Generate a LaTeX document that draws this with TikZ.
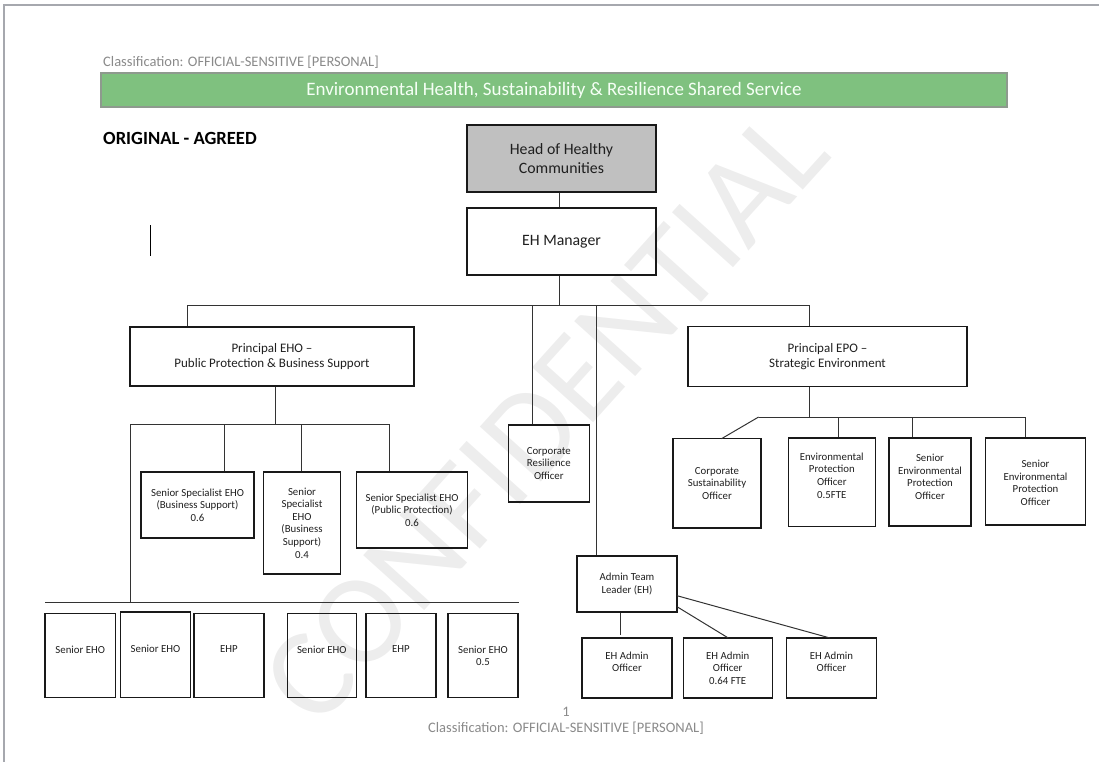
\documentclass[tikz,border=0pt]{standalone}
\usepackage{fontspec}
\setmainfont{Carlito}
\usetikzlibrary{calc}
\definecolor{bannergreen}{HTML}{7FC17F}
\definecolor{bannerborder}{HTML}{8E9A8E}
\definecolor{pageline}{HTML}{A6A8AE}
\definecolor{classgray}{HTML}{8A8A8A}
\definecolor{headgray}{HTML}{C0C0C0}
\definecolor{wmgray}{HTML}{EDEDED}
\begin{document}
\begin{tikzpicture}[x=1pt,y=-1pt,
  box/.style={draw=black!90, line width=1.1pt, inner sep=0pt, align=center,
    text=black!88, font=\fontsize{10.8}{12.6}\selectfont},
  boxtext/.style={draw=none, inner sep=0pt, align=center,
    text=black!88, font=\fontsize{10.8}{12.6}\selectfont},
  bigbox/.style={box, font=\fontsize{15.8}{18.3}\selectfont},
  midbox/.style={box, font=\fontsize{13}{15}\selectfont},
  conn/.style={draw=black!80, line width=1pt},
  classtext/.style={text=classgray, inner sep=0pt, font=\fontsize{14.5}{17}\selectfont}
]
\useasboundingbox (0,0) rectangle (1099,762);
% page edge
\draw[pageline, line width=2pt] (3.5,762) -- (3.5,5.5) -- (1099,5.5);
% watermark
\node[text=wmgray, rotate=48, inner sep=0pt, font=\fontsize{128}{130}\selectfont] (wm) at (545,416) {CONFIDENTIAL};
% header
\node[classtext, anchor=west] (cls) at (103,62) {Classification: OFFICIAL-SENSITIVE [PERSONAL]};
\node[draw=bannerborder, fill=bannergreen, line width=1.2pt, minimum width=906pt, minimum height=34pt, inner sep=0pt,
  text=white!96!green, font=\fontsize{19}{22}\selectfont] (banner) at (554,90) {Environmental Health, Sustainability \& Resilience Shared Service};
\node[anchor=west, inner sep=0pt, font=\fontsize{18.6}{21}\bfseries\selectfont] (orig) at (103,138) {ORIGINAL - AGREED};
\coordinate (curT) at (150.5,225);
\coordinate (curB) at (150.5,256);
\draw[black, line width=1.8pt] (curT) -- (curB);

% top boxes
\node[bigbox, fill=headgray, minimum width=189pt, minimum height=67pt] (head) at (561.5,158.5) {Head of Healthy\\Communities};
\node[bigbox, minimum width=189pt, minimum height=67pt] (ehm) at (561.5,241.5) {EH Manager};
\node[midbox, minimum width=284pt, minimum height=59pt] (peho) at (272,356.5) {Principal EHO --\\Public Protection \& Business Support};
\node[midbox, minimum width=279pt, minimum height=60pt] (pepo) at (827.5,356.8) {Principal EPO --\\Strategic Environment};
\node[box, minimum width=80.5pt, minimum height=77pt] (cro) at (548.8,463.5) {Corporate\\Resilience\\Officer};
\node[box, minimum width=100pt, minimum height=56pt] (atl) at (627,584) {Admin Team\\Leader (EH)};

% specialist row
\node[box, minimum width=113pt, minimum height=66pt] (ss1) at (197.5,505) {Senior Specialist EHO\\(Business Support)\\0.6};
\node[box, minimum width=77pt, minimum height=102pt] (ss2) at (302,523) {Senior\\Specialist\\EHO\\(Business\\Support)\\0.4};
\node[box, minimum width=111.5pt, minimum height=76pt] (ss3) at (412,510) {Senior Specialist EHO\\(Public Protection)\\0.6};

% bottom row
\node[box, minimum width=70.4pt, minimum height=84pt] (b1) at (80.2,655.7) {Senior EHO\\[0pt]{}};
\node[box, minimum width=70pt, minimum height=85.7pt] (b2) at (155.5,654.8) {Senior EHO\\[0pt]{}};
\node[box, minimum width=70pt, minimum height=84pt] (b3) at (229,655.7) {EHP\\[0pt]{}};
\node[box, minimum width=69.5pt, minimum height=84pt] (b4) at (321.8,655.7) {Senior EHO\\[0pt]{}};
\node[box, minimum width=70pt, minimum height=84pt] (b5) at (401,655.7) {EHP\\[0pt]{}};
\node[box, minimum width=70pt, minimum height=84pt] (b6) at (483,655.7) {Senior EHO\\0.5};

% admin row
\node[box, minimum width=90pt, minimum height=60pt] (a1) at (627,668) {EH Admin\\Officer\\[0pt]{}};
\node[box, minimum width=89.3pt, minimum height=60pt] (a2) at (727.7,668) {EH Admin\\Officer\\0.64 FTE};
\node[box, minimum width=90.4pt, minimum height=60pt] (a3) at (831.5,668) {EH Admin\\Officer\\[0pt]{}};

% environment row
\node[box, minimum width=88pt, minimum height=89.3pt] (cs) at (717,483.3) {Corporate\\Sustainability\\Officer};
\node[box, minimum width=87.5pt, minimum height=88.7pt] (epo) at (831.8,482.3) {};
\node[boxtext] (epot) at (831.8,475.5) {Environmental\\Protection\\Officer\\0.5FTE};
\node[box, minimum width=82pt, minimum height=88pt] (sepo1) at (930,482) {};
\node[boxtext] (sepo1t) at (930,477) {Senior\\Environmental\\Protection\\Officer};
\node[box, minimum width=99.5pt, minimum height=87pt] (sepo2) at (1035.5,481.5) {};
\node[boxtext] (sepo2t) at (1035.5,483) {Senior\\Environmental\\Protection\\Officer};

% connectors: top
\coordinate (busM) at (559,305);
\coordinate (busL) at (187,305);
\coordinate (busR) at (809,305);
\coordinate (busC) at (532,305);
\coordinate (busA) at (596.5,305);
\draw[conn] (head.south -| busM) -- (ehm.north -| busM);
\draw[conn] (ehm.south -| busM) -- (busM);
\draw[conn] (busL) -- (busR);
\draw[conn] (busL) -- (peho.north -| busL);
\draw[conn] (busR) -- (pepo.north -| busR);
\draw[conn] (busC) -- (cro.north -| busC);
\draw[conn] (busA) -- (atl.north -| busA);

% connectors: public protection
\coordinate (ehoM) at (275,424);
\coordinate (ehoL) at (130.5,424);
\coordinate (ehoR) at (389.5,424);
\coordinate (eho1) at (224.6,424);
\coordinate (eho2) at (301.8,424);
\coordinate (lowL) at (45,602);
\coordinate (lowR) at (518.6,602);
\draw[conn] (peho.south -| ehoM) -- (ehoM);
\draw[conn] (ehoL) -- (ehoR);
\draw[conn] (ehoL) -- (lowL -| ehoL);
\draw[conn] (lowL) -- (lowR);
\draw[conn] (eho1) -- (ss1.north -| eho1);
\draw[conn] (eho2) -- (ss2.north -| eho2);
\draw[conn] (ehoR) -- (ss3.north -| ehoR);

% connectors: environment
\coordinate (envM) at (809,417);
\coordinate (envL) at (758.6,417);
\coordinate (envR) at (1025.7,417);
\coordinate (env2) at (838,417);
\coordinate (env3) at (912,417);
\coordinate (csTop) at (721.5,438.7);
\draw[conn] (pepo.south -| envM) -- (envM);
\draw[conn] (envL) -- (envR);
\draw[conn] (envL) -- (csTop);
\draw[conn] (env2) -- (epo.north -| env2);
\draw[conn] (env3) -- (sepo1.north -| env3);
\draw[conn] (envR) -- (sepo2.north -| envR);

% connectors: admin
\coordinate (adm1) at (620,612);
\coordinate (atlR1) at (677,606.7);
\coordinate (atlR2) at (677,595.7);
\coordinate (a2Top) at (728.3,638);
\coordinate (a3Top) at (830,638);
\draw[conn] (atl.south -| adm1) -- (620,635);
\draw[conn] (atlR1) -- (a2Top);
\draw[conn] (atlR2) -- (a3Top);

% footer
\node[classtext] (pg) at (566,712) {1};
\node[classtext] (cls2) at (566,728) {Classification: OFFICIAL-SENSITIVE [PERSONAL]};
\end{tikzpicture}
\end{document}
